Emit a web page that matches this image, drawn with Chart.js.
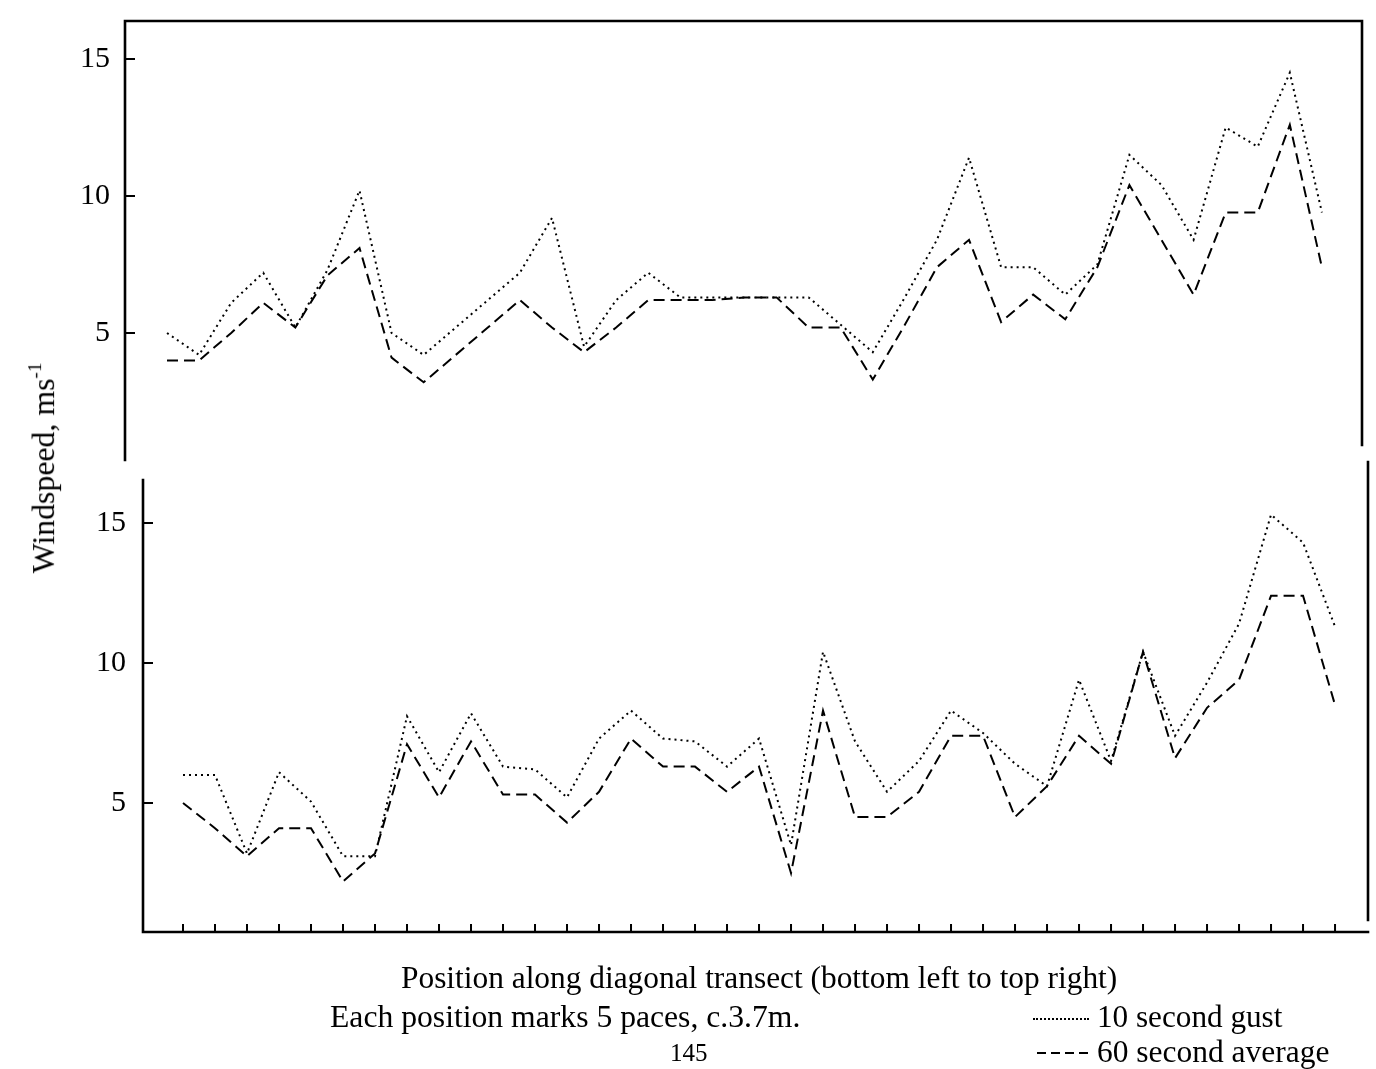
<!DOCTYPE html>
<html><head><meta charset="utf-8">
<script src="https://cdn.jsdelivr.net/npm/chart.js@4.4.1/dist/chart.umd.min.js"></script>
<style>
html,body{margin:0;padding:0;background:#fff;}
body{width:1376px;height:1069px;position:relative;overflow:hidden;font-family:"Liberation Serif","Times New Roman",serif;color:#000;}
canvas{position:absolute;left:0;}
.t{position:absolute;white-space:nowrap;line-height:1;font-size:25px;}
sup{font-size:0.6em;vertical-align:0.7em;line-height:0;}
</style></head><body>
<canvas id="c1" style="top:0;width:1376px;height:470px"></canvas>
<canvas id="c2" style="top:460px;width:1376px;height:609px"></canvas>
<div class="t fit" data-w="211" id="ylab" style="left:44px;top:468px;transform:translate(-50%,-50%) rotate(-90deg);font-size:30px">Windspeed, ms<sup>-1</sup></div>
<div class="t fit" data-w="717" style="left:401px;top:962px">Position along diagonal transect (bottom left to top right)</div>
<div class="t fit" data-w="470" style="left:330px;top:1001px">Each position marks 5 paces, c.3.7m.</div>
<div class="t fit" data-w="38" style="left:670px;top:1040px">145</div>
<div style="position:absolute;left:1033px;top:1018px;width:56px;border-top:2px dotted #000;"></div>
<div class="t fit" data-w="186" style="left:1097px;top:1001px">10 second gust</div>
<div style="position:absolute;left:1037px;top:1052px;width:54px;height:2px;background:repeating-linear-gradient(90deg,#000 0 9px,transparent 9px 14px);"></div>
<div class="t fit" data-w="233" style="left:1097px;top:1036px">60 second average</div>
<script>
// ---- data ----
const positions = [1,2,3,4,5,6,7,8,9,10,11,12,13,14,15,16,17,18,19,20,21,22,23,24,25,26,27,28,29,30,31,32,33,34,35,36,37];
const topGust = [5.0,4.2,6.1,7.2,5.2,7.3,10.2,5.0,4.2,5.2,6.2,7.2,9.2,4.5,6.2,7.2,6.3,6.3,6.3,6.3,6.3,5.3,4.3,6.3,8.4,11.4,7.4,7.4,6.4,7.5,11.5,10.4,8.4,12.5,11.8,14.5,9.4];
const topAvg  = [4.0,4.0,5.0,6.1,5.2,7.1,8.1,4.1,3.2,4.2,5.2,6.2,5.2,4.3,5.2,6.2,6.2,6.2,6.3,6.3,5.2,5.2,3.3,5.3,7.4,8.4,5.4,6.4,5.5,7.4,10.4,8.4,6.4,9.4,9.4,12.6,7.4];
const bottomGust = [6.0,6.0,3.2,6.1,5.05,3.1,3.1,8.1,6.1,8.2,6.3,6.2,5.2,7.3,8.3,7.3,7.2,6.3,7.3,3.5,10.4,7.2,5.4,6.5,8.3,7.5,6.4,5.6,9.4,6.5,10.4,7.4,9.3,11.4,15.3,14.3,11.3];
const bottomAvg  = [5.0,4.1,3.1,4.1,4.1,2.2,3.2,7.1,5.2,7.2,5.3,5.3,4.3,5.4,7.3,6.3,6.3,5.4,6.3,2.5,8.3,4.5,4.5,5.4,7.4,7.4,4.5,5.6,7.4,6.4,10.4,6.6,8.4,9.4,12.4,12.4,8.5];
const yTickValues = [5,10,15];
const seriesNames = ['10 second gust','60 second average'];

// fit text widths
document.querySelectorAll('.fit').forEach(el=>{
  const w = +el.dataset.w; const fs = parseFloat(getComputedStyle(el).fontSize);
  el.style.fontSize = (fs * w / el.offsetWidth) + 'px';
});

const frame = {
  id:'frame',
  afterDraw(chart, args, o){
    const {ctx, chartArea:a, scales:{x,y}} = chart;
    ctx.save(); ctx.strokeStyle='#000'; ctx.lineCap='square';
    ctx.lineWidth=2.6; ctx.beginPath();
    ctx.moveTo(a.left, o.leftTop); ctx.lineTo(a.left, o.leftBottom ?? a.bottom);
    if(o.top){ctx.moveTo(a.left,a.top);ctx.lineTo(a.right,a.top);}
    if(o.right){ctx.moveTo(a.right,o.rightTop);ctx.lineTo(a.right,o.rightBottom);}
    if(o.bottom){ctx.moveTo(a.left,a.bottom);ctx.lineTo(a.right,a.bottom);}
    ctx.stroke();
    ctx.lineWidth=2; ctx.lineCap='butt'; ctx.beginPath();
    y.ticks.forEach(t=>{const p=y.getPixelForValue(t.value); ctx.moveTo(a.left,p); ctx.lineTo(a.left+10,p);});
    if(o.xTicks){ x.ticks.forEach(t=>{const p=x.getPixelForValue(t.value); ctx.moveTo(p,a.bottom); ctx.lineTo(p,a.bottom-8);}); }
    ctx.stroke(); ctx.restore();
  }
};

function makeChart(id, gust, avg, cfg){
  const pts = arr => arr.map((v,i)=>({x:positions[i], y:v}));
  return new Chart(document.getElementById(id), {
    type:'line',
    data:{datasets:[
      {label:seriesNames[0], data:pts(gust), borderColor:'#000', borderWidth:2, borderDash:[2,4], pointRadius:0, tension:0, fill:false},
      {label:seriesNames[1], data:pts(avg), borderColor:'#000', borderWidth:2, borderDash:[11,6], pointRadius:0, tension:0, fill:false}
    ]},
    options:{
      responsive:false, animation:false, devicePixelRatio:1,
      layout:{padding:cfg.padding},
      plugins:{legend:{display:false}, tooltip:{enabled:false}, frame:cfg.frame},
      scales:{
        x:{type:'linear', min:cfg.xmin, max:cfg.xmax, display:true,
           grid:{display:false, drawTicks:false}, border:{display:false},
           ticks:{display:false},
           afterBuildTicks:s=>{s.ticks=positions.map(v=>({value:v}));},
           afterFit:s=>{s.height=0; s.paddingLeft=0; s.paddingRight=0; s.paddingTop=0; s.paddingBottom=0;}},
        y:{type:'linear', min:cfg.ymin, max:cfg.ymax,
           grid:{display:false, drawTicks:false}, border:{display:false},
           ticks:{color:'#000', padding:cfg.tickPad, font:{family:'Liberation Serif', size:30}},
           afterBuildTicks:s=>{s.ticks=yTickValues.map(v=>({value:v}));},
           afterFit:s=>{s.width=cfg.yWidth; s.paddingTop=0; s.paddingBottom=0; s.paddingLeft=0; s.paddingRight=0;}}
      }
    },
    plugins:[frame]
  });
}

const c1 = document.getElementById('c1'); c1.width=1376; c1.height=470;
const c2 = document.getElementById('c2'); c2.width=1376; c2.height=609;

makeChart('c1', topGust, topAvg, {
  padding:{left:0, top:21, right:14, bottom:18},
  xmin:-0.31, xmax:38.25, ymin:0.657, ymax:16.387, yWidth:125, tickPad:15,
  frame:{top:true, right:true, bottom:false, xTicks:false, leftTop:21, leftBottom:460, rightTop:21, rightBottom:445}
});
makeChart('c2', bottomGust, bottomAvg, {
  padding:{left:0, top:11, right:8, bottom:137},
  xmin:-0.25, xmax:38.03, ymin:0.393, ymax:16.857, yWidth:143, tickPad:17,
  frame:{top:false, right:true, bottom:true, xTicks:true, leftTop:20, rightTop:2, rightBottom:460}
});
</script>
</body></html>
